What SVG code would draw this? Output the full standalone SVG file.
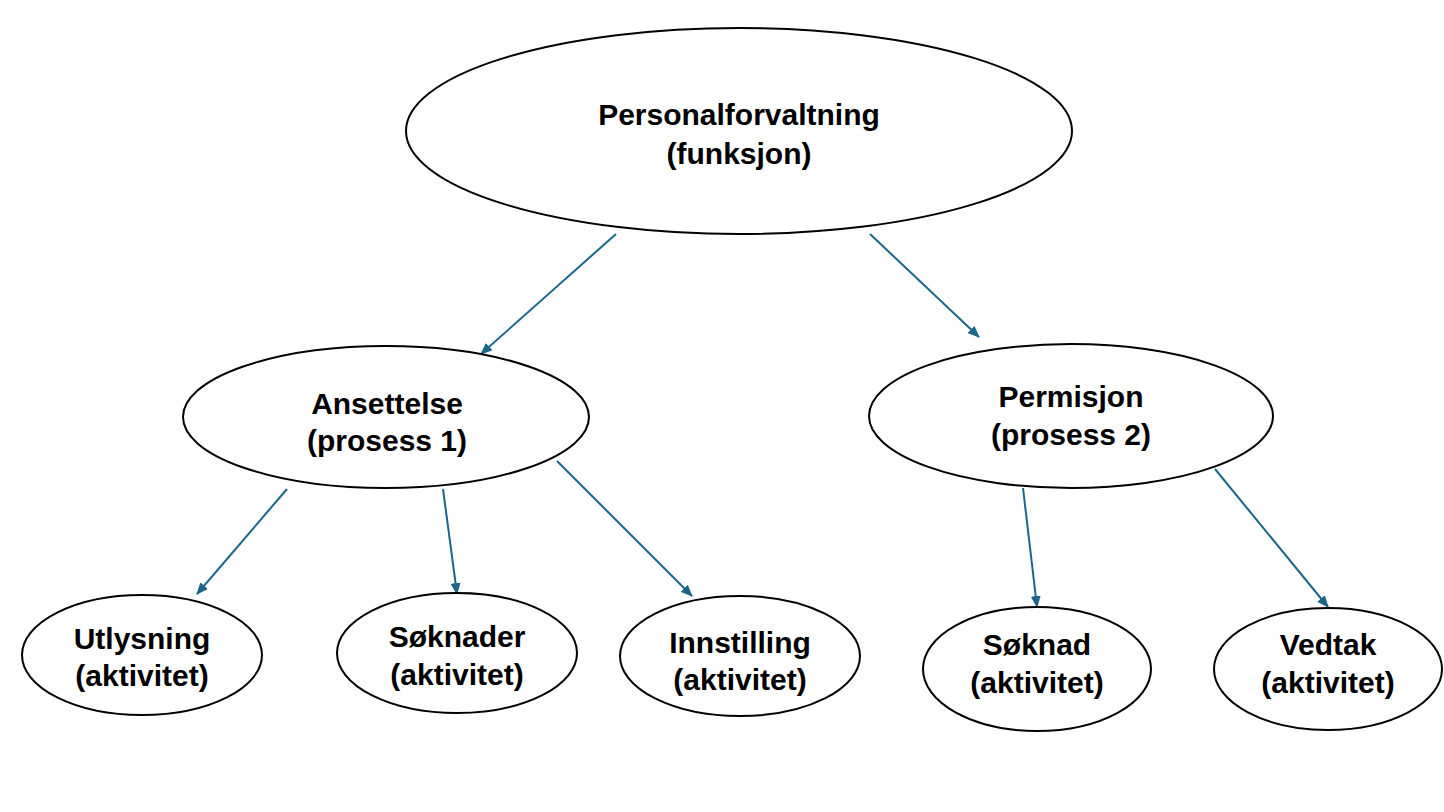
<svg xmlns="http://www.w3.org/2000/svg" width="1444" height="812" viewBox="0 0 1444 812">
<style>
.n ellipse{fill:#fff;stroke:#000;stroke-width:2}
.n text{font-family:"Liberation Sans",Arial,sans-serif;font-weight:bold;font-size:30px;text-anchor:middle;fill:#000}
.c line{stroke:#1b6688;stroke-width:2;marker-end:url(#ah)}
</style>
<defs>
<marker id="ah" markerWidth="12" markerHeight="10" refX="11" refY="5" orient="auto" markerUnits="userSpaceOnUse">
<path d="M0,0 L12,5 L0,10 Z" fill="#1b6688"/>
</marker>
</defs>
<rect width="1444" height="812" fill="#fff"/>
<g class="c" id="connectors">
<line x1="616" y1="234" x2="481" y2="354"/>
<line x1="870" y1="234" x2="979" y2="337"/>
<line x1="287" y1="489" x2="197" y2="594"/>
<line x1="443" y1="489" x2="457" y2="594"/>
<line x1="557" y1="461" x2="692" y2="596"/>
<line x1="1023" y1="488" x2="1037" y2="607"/>
<line x1="1215" y1="469" x2="1328" y2="607"/>
</g>
<g class="n" id="personalforvaltning">
<ellipse cx="739" cy="131" rx="333" ry="103"/>
<text x="739" y="125">Personalforvaltning</text>
<text x="739" y="164">(funksjon)</text>
</g>
<g class="n" id="ansettelse">
<ellipse cx="386" cy="417" rx="203" ry="71"/>
<text x="387" y="414">Ansettelse</text>
<text x="387" y="451">(prosess 1)</text>
</g>
<g class="n" id="permisjon">
<ellipse cx="1071" cy="416" rx="202" ry="72"/>
<text x="1071" y="407">Permisjon</text>
<text x="1071" y="445">(prosess 2)</text>
</g>
<g class="n" id="utlysning">
<ellipse cx="142" cy="655" rx="120" ry="60"/>
<text x="142" y="649">Utlysning</text>
<text x="142" y="686">(aktivitet)</text>
</g>
<g class="n" id="soknader">
<ellipse cx="457" cy="653" rx="120" ry="60"/>
<text x="457" y="647">Søknader</text>
<text x="457" y="685">(aktivitet)</text>
</g>
<g class="n" id="innstilling">
<ellipse cx="740" cy="656" rx="120" ry="60"/>
<text x="740" y="653">Innstilling</text>
<text x="740" y="690">(aktivitet)</text>
</g>
<g class="n" id="soknad">
<ellipse cx="1037" cy="669" rx="114" ry="62"/>
<text x="1037" y="655">Søknad</text>
<text x="1037" y="693">(aktivitet)</text>
</g>
<g class="n" id="vedtak">
<ellipse cx="1328" cy="669" rx="114" ry="61"/>
<text x="1328" y="655">Vedtak</text>
<text x="1328" y="693">(aktivitet)</text>
</g>
</svg>
